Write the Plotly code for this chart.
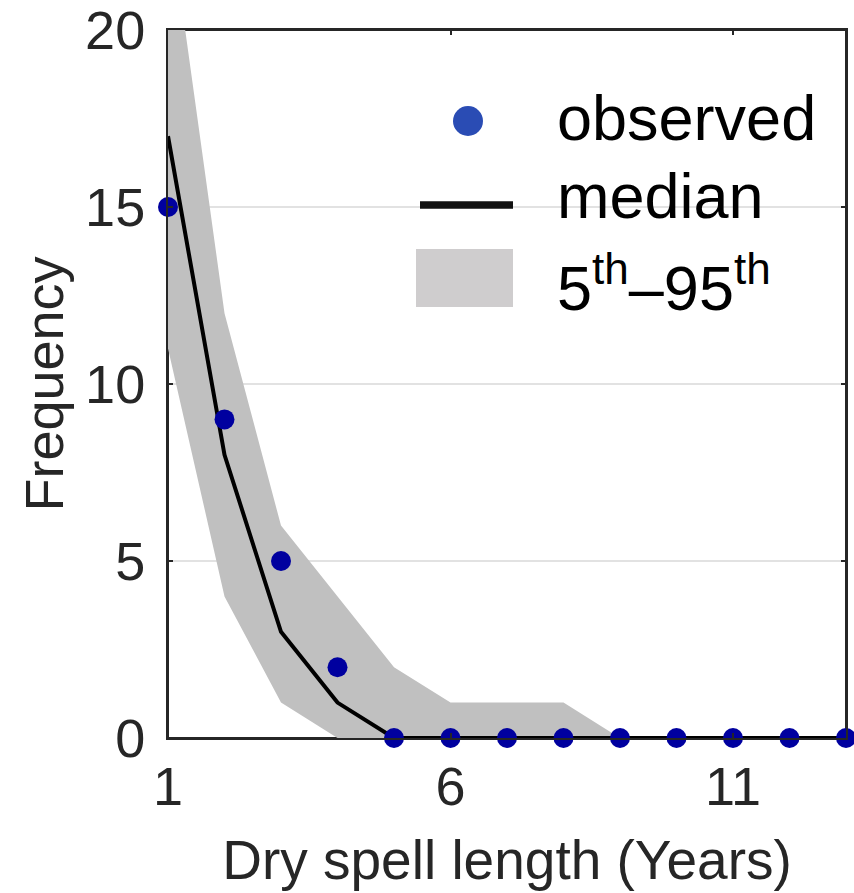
import plotly.graph_objects as go

# ---- data ----
years = [1, 2, 3, 4, 5, 6, 7, 8, 9, 10, 11, 12, 13]
observed = [15, 9, 5, 2, 0, 0, 0, 0, 0, 0, 0, 0, 0]
median = [17, 8, 3, 1, 0, 0, 0, 0, 0, 0, 0, 0, 0]
p95 = [23.5, 12, 6, 4, 2, 1, 1, 1, 0, 0, 0, 0, 0]
p05 = [11, 4, 1, 0, 0, 0, 0, 0, 0, 0, 0, 0, 0]
x_ticks = [1, 6, 11]
y_ticks = [0, 5, 10, 15, 20]

W, H = 854, 893
L, R, T, B = 168, 846, 30, 738
FONT = "Liberation Sans, Arial, sans-serif"
AXC = "#262626"


def px(x):
    return (x - L) / (R - L)


def py(y):
    return (B - y) / (B - T)


fig = go.Figure()
fig.add_trace(go.Scatter(x=years, y=p05, mode="lines", line=dict(width=0, color="#c0c0c0"),
                         showlegend=False, hoverinfo="skip"))
fig.add_trace(go.Scatter(x=years, y=p95, mode="lines", line=dict(width=0, color="#c0c0c0"),
                         fill="tonexty", fillcolor="#c0c0c0", showlegend=False, name="5th–95th"))
fig.add_trace(go.Scatter(x=years, y=median, mode="lines", line=dict(width=4, color="#000000"),
                         cliponaxis=False, showlegend=False, name="median"))
fig.add_trace(go.Scatter(x=years, y=observed, mode="markers",
                         marker=dict(size=20, color="#00009f", line=dict(width=0)),
                         cliponaxis=False, showlegend=False, name="observed"))

# manual legend + frame
shapes = [
    dict(type="rect", xref="paper", yref="paper", x0=0, x1=1, y0=0, y1=1,
         line=dict(color=AXC, width=2), layer="below"),
    dict(type="circle", xref="paper", yref="paper",
         x0=px(453), x1=px(483), y0=py(106), y1=py(136),
         fillcolor="#2a4cb4", line=dict(width=0)),
    dict(type="line", xref="paper", yref="paper",
         x0=px(420), x1=px(513), y0=py(205), y1=py(205),
         line=dict(color="#111111", width=7.5)),
    dict(type="rect", xref="paper", yref="paper",
         x0=px(416), x1=px(513), y0=py(249), y1=py(307),
         fillcolor="#cfcdce", line=dict(width=0)),
]
annos = []
for txt, yc in [("observed", 118), ("median", 196), ("5<sup>th</sup>–95<sup>th</sup>", 283)]:
    annos.append(dict(text=txt, xref="paper", yref="paper", x=px(555), y=py(yc),
                      xanchor="left", yanchor="middle", showarrow=False,
                      font=dict(family=FONT, size=63, color="#000000")))

fig.update_layout(
    width=W, height=H,
    margin=dict(l=L, r=W - R, t=T, b=H - B, autoexpand=False),
    paper_bgcolor="white", plot_bgcolor="white",
    font=dict(family=FONT, color=AXC),
    shapes=shapes, annotations=annos,
    showlegend=False,
)
fig.update_xaxes(range=[1, 13], tickvals=x_ticks, ticks="inside", ticklen=5, tickwidth=2,
                 tickcolor=AXC, showline=True, linecolor=AXC, linewidth=2, mirror="ticks",
                 showgrid=False, zeroline=False, ticklabeloverflow="allow", automargin=False,
                 tickfont=dict(family=FONT, size=54, color=AXC),
                 title=dict(text="Dry spell length (Years)", font=dict(family=FONT, size=55, color=AXC),
                            standoff=26))
fig.update_yaxes(range=[0, 20], tickvals=y_ticks, ticks="inside", ticklen=5, tickwidth=2,
                 tickcolor=AXC, showline=True, linecolor=AXC, linewidth=2, mirror="ticks",
                 showgrid=True, gridcolor="#e2e2e2", gridwidth=2, zeroline=False,
                 ticklabeloverflow="allow", ticklabelstandoff=10, automargin=False,
                 tickfont=dict(family=FONT, size=54, color=AXC),
                 title=dict(text="Frequency", font=dict(family=FONT, size=54, color=AXC),
                            standoff=4))

fig.write_html("out.html")
